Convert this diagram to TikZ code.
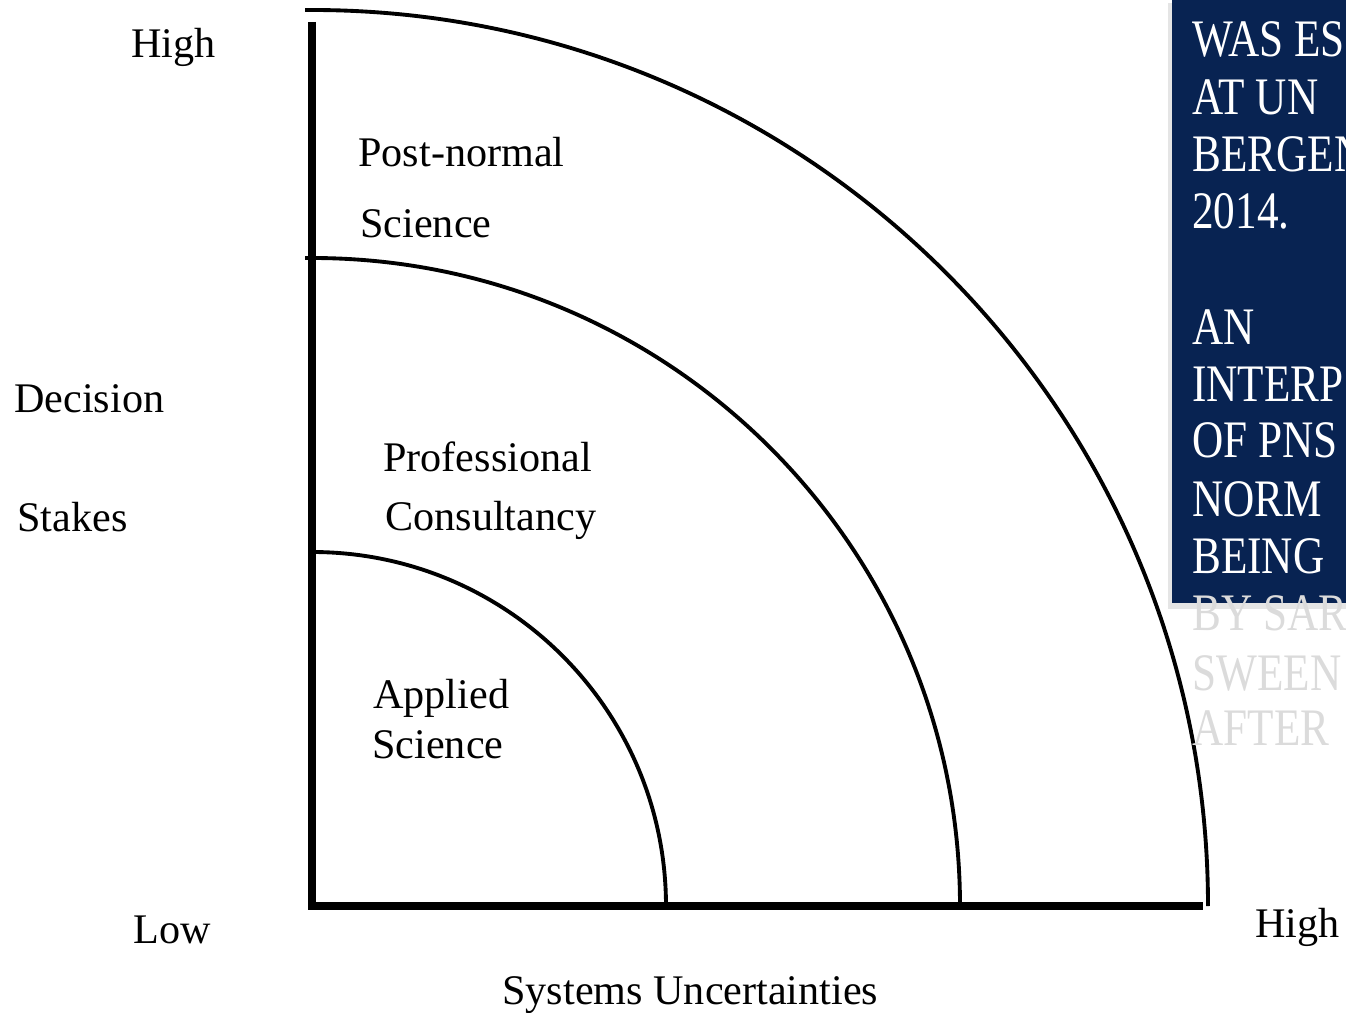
\documentclass[tikz,border=0pt]{standalone}
\usepackage{fontspec}
\setmainfont{Liberation Serif}
\newfontfamily\boxfont[FakeStretch=0.82]{Liberation Serif}
\usepackage{tikz}
\definecolor{navy}{RGB}{8,35,82}
\tikzset{
  lbl/.style={anchor=base west,inner sep=0pt,font=\fontsize{24}{28}\selectfont},
  boxtxt/.style={anchor=base west,inner sep=0pt,text=white,font=\boxfont\fontsize{30}{34}\selectfont},
  axisline/.style={line width=4pt},
  ring/.style={line width=2.2pt}
}

\begin{document}
\begin{tikzpicture}[x=0.02cm,y=-0.02cm]
	\useasboundingbox (0,0) rectangle (1346,1013);
	\clip (0,0) rectangle (1346,1013);
	% the three quarter circles
	\foreach \r/\s in {896/305,648/305,354/312}
		\draw[ring] (\s,906-\r) -- (312,906-\r) arc[start angle=90,end angle=0,radius=\r*0.02cm];
	\draw[axisline] (312,22) -- (312,906) -- (1203,906);

	\node[lbl] (hitop) at (131,58) {High};
	\node[lbl] (dec) at (14,413) {Decision};
	\node[lbl] (stakes) at (17,531) {Stakes};
	\node[lbl] (low) at (133,943) {Low};
	\node[lbl] (hiright) at (1255,937) {High};
	\node[lbl] (sysunc) at (502,1004) {Systems Uncertainties};

	\node[lbl] (pn1) at (358,167) {Post-normal};
	\node[lbl] (pn2) at (360,238) {Science};
	\node[lbl] (pc1) at (383,472) {Professional};
	\node[lbl] (pc2) at (385,530) {Consultancy};
	\node[lbl] (as1) at (373,708) {Applied};
	\node[lbl] (as2) at (372,758) {Science};

	% overlay box
	\fill[black!10] (1168,3) rectangle (1346,609);
	\fill[navy] (1172,0) rectangle (1346,603);
	\foreach \t/\b [count=\i] in {WAS ES/57,AT UN/115,BERGEN/172,2014./229,AN/345,INTERP/402,OF PNS/458,NORM/517,BEING/573}
		\node[boxtxt] (ln\i) at (1192,\b) {\t};
	\foreach \t/\b [count=\i] in {BY SAR/630,SWEEN/690,AFTER/745}
		\node[boxtxt,text=black!14] (ft\i) at (1192,\b) {\t};
\end{tikzpicture}
\end{document}
